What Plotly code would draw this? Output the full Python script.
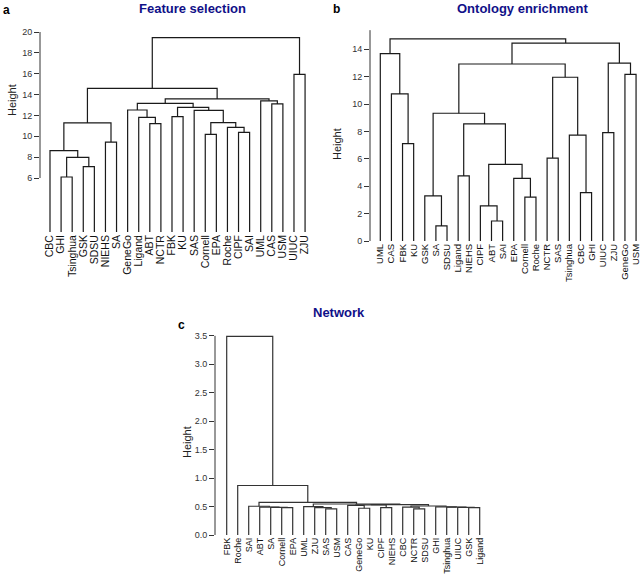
import plotly.graph_objects as go

W, H = 643, 577

# ---------------- data ----------------
labels_a = ["CBC", "GHI", "Tsinghua", "GSK", "SDSU", "NIEHS", "SA", "GeneGo", "Ligand", "ABT",
            "NCTR", "FBK", "KU", "SAS", "Cornell", "EPA", "Roche", "CIPF", "SAI", "UML",
            "CAS", "USM", "UIUC", "ZJU"]
merges_a = [
    ("GHI", "Tsinghua", 6.1), ("GSK", "SDSU", 7.09), (0, 1, 7.98), ("CBC", 2, 8.62),
    ("NIEHS", "SA", 9.45), (3, 4, 11.28), ("ABT", "NCTR", 11.21), ("Ligand", 6, 11.82),
    ("GeneGo", 7, 12.52), ("FBK", "KU", 11.88), ("Cornell", "EPA", 10.19), ("CIPF", "SAI", 10.38),
    ("Roche", 11, 10.86), (10, 12, 11.31), ("SAS", 13, 12.49), (9, 14, 12.78), (8, 15, 13.16),
    ("CAS", "USM", 13.1), ("UML", 17, 13.4), (16, 18, 13.58), (5, 19, 14.6),
    ("UIUC", "ZJU", 15.94), (20, 21, 19.46),
]
ticks_a = [6, 8, 10, 12, 14, 16, 18, 20]

labels_b = ["UML", "CAS", "FBK", "KU", "GSK", "SA", "SDSU", "Ligand", "NIEHS", "CIPF", "ABT",
            "SAI", "EPA", "Cornell", "Roche", "NCTR", "SAS", "Tsinghua", "CBC", "GHI", "UIUC",
            "ZJU", "GeneGo", "USM"]
merges_b = [
    ("FBK", "KU", 7.11), ("CAS", 0, 10.74), ("UML", 1, 13.68), ("SA", "SDSU", 1.1),
    ("GSK", 3, 3.29), ("ABT", "SAI", 1.46), ("CIPF", 5, 2.56), ("Cornell", "Roche", 3.21),
    ("EPA", 7, 4.58), (6, 8, 5.6), ("Ligand", "NIEHS", 4.75), (10, 9, 8.55), (4, 11, 9.33),
    ("NCTR", "SAS", 6.06), ("CBC", "GHI", 3.53), ("Tsinghua", 14, 7.74), (13, 15, 11.96),
    (12, 16, 12.93), ("UIUC", "ZJU", 7.91), ("GeneGo", "USM", 12.17), (18, 19, 13.0),
    (17, 20, 14.46), (2, 21, 14.76),
]
ticks_b = [0, 2, 4, 6, 8, 10, 12, 14]

labels_c = ["FBK", "Roche", "SAI", "ABT", "SA", "Cornell", "EPA", "UML", "ZJU", "SAS", "USM",
            "CAS", "GeneGo", "KU", "CIPF", "NIEHS", "CBC", "NCTR", "SDSU", "GHI", "Tsinghua",
            "UIUC", "GSK", "Ligand"]
merges_c = [
    ("Cornell", "EPA", 0.48), ("SA", 0, 0.485), ("ABT", 1, 0.49), ("SAI", 2, 0.505),   # 0-3
    ("SAS", "USM", 0.46), ("ZJU", 4, 0.48), ("UML", 5, 0.50),                          # 4-6
    ("GeneGo", "KU", 0.47), ("CAS", 7, 0.52), ("CIPF", "NIEHS", 0.48), (8, 9, 0.53),    # 7-10
    ("NCTR", "SDSU", 0.46), ("CBC", 11, 0.49),                                          # 11-12
    ("GSK", "Ligand", 0.48), ("UIUC", 13, 0.485), ("Tsinghua", 14, 0.49), ("GHI", 15, 0.495),  # 13-16
    (12, 16, 0.51), (10, 17, 0.535), (6, 18, 0.545), (3, 19, 0.575),                  # 17-20
    ("Roche", 20, 0.87), ("FBK", 21, 3.49),                                             # 21-22
]
ticks_c = [0.0, 0.5, 1.0, 1.5, 2.0, 2.5, 3.0, 3.5]


def dendro(labels, merges, base):
    pos = {lab: i for i, lab in enumerate(labels)}
    nx, nh = [], []
    xs, ys = [], []

    def get(c):
        if isinstance(c, str):
            return pos[c], base
        return nx[c], nh[c]

    for a, b, h in merges:
        xa, ha = get(a)
        xb, hb = get(b)
        xs += [xa, xa, xb, xb, None]
        ys += [ha, h, h, hb, None]
        nx.append((xa + xb) / 2)
        nh.append(h)
    return xs, ys


def px(x):
    return x / W


def py(y):
    return 1 - y / H


# panel geometry (pixels)
a_left, a_right, a_top, a_bot = 40, 318, 20, 232
a_x0, a_dx = 50, 11.09
a_v20_px, a_ppu = 32, 10.43
a_ymin = 20 - (a_bot - a_v20_px) / a_ppu
a_ymax = 20 + (a_v20_px - a_top) / a_ppu
b_left, b_right, b_top, b_bot = 370, 641, 25, 241
b_x0, b_dx = 380.3, 11.12
b_ppu = 13.69
c_left, c_right, c_top, c_bot = 215, 490, 330, 535
c_x0, c_dx = 226.7, 11.0
c_ppu = 56.9

line_style = dict(color="#1a1a1a", width=1.2)
fig = go.Figure()

xa_, ya_ = dendro(labels_a, merges_a, a_ymin)
fig.add_trace(go.Scatter(x=xa_, y=ya_, mode="lines", line=line_style, xaxis="x", yaxis="y",
                         hoverinfo="skip", showlegend=False, cliponaxis=False))
xb_, yb_ = dendro(labels_b, merges_b, 0)
fig.add_trace(go.Scatter(x=xb_, y=yb_, mode="lines", line=line_style, xaxis="x2", yaxis="y2",
                         hoverinfo="skip", showlegend=False, cliponaxis=False))
xc_, yc_ = dendro(labels_c, merges_c, 0)
fig.add_trace(go.Scatter(x=xc_, y=yc_, mode="lines", line=dict(color="#333333", width=1.2),
                         xaxis="x3", yaxis="y3", hoverinfo="skip", showlegend=False,
                         cliponaxis=False))

FAM = "Liberation Sans, Arial, sans-serif"
tickfont = dict(family=FAM, size=9, color="#333333")


def xaxis(left, right, x0, dx, labels, anchor, fsize):
    return dict(domain=[px(left), px(right)],
                range=[(left - x0) / dx, (right - x0) / dx],
                tickvals=list(range(len(labels))), ticktext=labels, tickangle=-90,
                ticks="", showline=False, showgrid=False, zeroline=False,
                tickfont=dict(family=FAM, size=fsize, color="#111111"),
                anchor=anchor, fixedrange=True, automargin=False)


def yaxis(top, bot, rng, tickvals, anchor, fmt=None):
    d = dict(domain=[py(bot), py(top)], range=rng, tickvals=tickvals, ticks="outside",
             ticklen=5, tickwidth=1, tickcolor="#333333", showline=False, showgrid=False,
             zeroline=False, tickfont=tickfont, anchor=anchor, fixedrange=True,
             automargin=False)
    if fmt:
        d["tickformat"] = fmt
    return d


fig.update_layout(
    width=W, height=H, margin=dict(l=0, r=0, t=0, b=0),
    paper_bgcolor="white", plot_bgcolor="white", showlegend=False,
    xaxis=xaxis(a_left, a_right, a_x0, a_dx, labels_a, "y", 10.5),
    yaxis=yaxis(a_top, a_bot, [a_ymin, a_ymax], ticks_a, "x"),
    xaxis2=xaxis(b_left, b_right, b_x0, b_dx, labels_b, "y2", 9.5),
    yaxis2=yaxis(b_top, b_bot, [0, (b_bot - b_top) / b_ppu], ticks_b, "x2"),
    xaxis3=xaxis(c_left, c_right, c_x0, c_dx, labels_c, "y3", 9),
    yaxis3=yaxis(c_top, c_bot, [0, (c_bot - c_top) / c_ppu], ticks_c, "x3", ".1f"),
)

axis_line = dict(color="#333333", width=1)
fig.add_shape(type="line", xref="paper", yref="y", x0=px(a_left), x1=px(a_left),
              y0=ticks_a[0], y1=ticks_a[-1], line=axis_line)
fig.add_shape(type="line", xref="paper", yref="y2", x0=px(b_left), x1=px(b_left),
              y0=ticks_b[0], y1=15.4, line=axis_line)
fig.add_shape(type="line", xref="paper", yref="y3", x0=px(c_left), x1=px(c_left),
              y0=ticks_c[0], y1=ticks_c[-1], line=axis_line)

title_font = dict(family=FAM, size=13, color="#101088")
letter_font = dict(family=FAM, size=12, color="black")
height_font = dict(family=FAM, size=11, color="#222222")

annots = [
    dict(text="<b>Feature selection</b>", x=px(192), y=py(9), font=title_font),
    dict(text="<b>Ontology enrichment</b>", x=px(522), y=py(9), font=title_font),
    dict(text="<b>Network</b>", x=px(339), y=py(312), font=title_font),
    dict(text="<b>a</b>", x=px(6), y=py(10), font=letter_font),
    dict(text="<b>b</b>", x=px(336), y=py(9), font=letter_font),
    dict(text="<b>c</b>", x=px(181), y=py(325), font=letter_font),
    dict(text="Height", x=px(12), y=py(100), font=height_font, textangle=-90),
    dict(text="Height", x=px(337), y=py(144), font=height_font, textangle=-90),
    dict(text="Height", x=px(187), y=py(442), font=height_font, textangle=-90),
]
for a in annots:
    fig.add_annotation(xref="paper", yref="paper", showarrow=False,
                       xanchor="center", yanchor="middle", **a)

fig.write_html("out.html", config={"displayModeBar": False, "staticPlot": True},
               post_script="document.body.style.margin='0px';document.body.style.padding='0px';")
